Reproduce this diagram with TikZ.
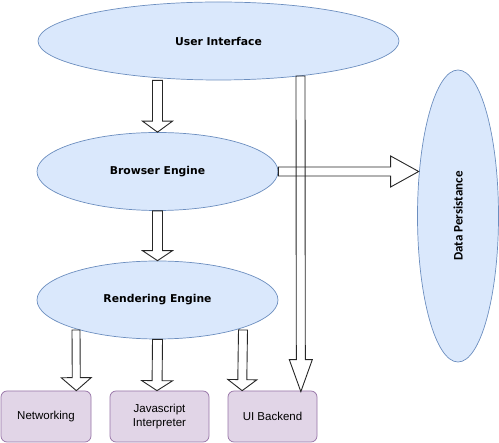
\documentclass[tikz,border=0pt]{standalone}
\usepackage{fontspec}
\usepackage{graphicx}
\setmainfont{Liberation Sans}
\newfontfamily\procfont{DejaVu Sans}
\newfontfamily\storefont{Carlito}
\usetikzlibrary{positioning,calc,shapes.geometric}

\definecolor{procfill}{HTML}{DAE8FC}
\definecolor{procline}{HTML}{6C8EBF}
\definecolor{compfill}{HTML}{E1D5E7}
\definecolor{compline}{HTML}{9673A6}

\tikzset{
  proc/.style={ellipse, draw=procline, fill=procfill, line width=0.7pt, inner sep=0pt,
    font=\procfont\bfseries\fontsize{10.8}{13}\selectfont},
  comp/.style={rectangle, rounded corners=6pt, draw=compline, fill=compfill, line width=0.7pt,
    minimum height=51pt, align=center, font=\fontsize{11.5}{13.5}\selectfont},
  flow/.style={draw=black!85, line width=0.9pt, line join=miter}
}

% fat open arrow: from, to, shaft half width, head half width, head length
\newcommand{\fatedge}[5]{%
  \coordinate (fa-base) at ($(#2)!#5!(#1)$);
  \draw[flow] ($(#1)!#3!90:(#2)$) -- ($(fa-base)!#3!-90:(#1)$) -- ($(fa-base)!#4!-90:(#1)$)
    -- (#2) -- ($(fa-base)!#4!90:(#1)$) -- ($(fa-base)!#3!90:(#1)$) -- ($(#1)!#3!-90:(#2)$) -- cycle;}

\begin{document}
\begin{tikzpicture}[x=1pt, y=-1pt]

    \path[use as bounding box] (0,0) rectangle (499,443);

    % Define nodes
    \node[proc, minimum width=361pt, minimum height=78pt] (ui) at (218.5,41) {User Interface};
    \node[proc, minimum width=241pt, minimum height=78pt] (be) at (157.5,171.5) {Browser Engine};
    \node[proc, minimum width=241pt, minimum height=78pt] (re) at (157.5,300) {Rendering Engine};
    \node[proc, minimum width=81pt, minimum height=292pt,
          font=\storefont\bfseries\fontsize{13}{15}\selectfont] (dp) at (458,216) {\rotatebox{90}{Data Persistance}};
    \node[comp, minimum width=90pt] (net) at (46,416.5) {Networking};
    \node[comp, minimum width=99pt] (js) at (159.5,416.5) {Javascript\\Interpreter};
    \node[comp, minimum width=89pt] (uib) at (272.5,416.5) {UI Backend};

    % Connect the nodes
    \fatedge{ui.south -| be.north}{be.north}{5pt}{15pt}{11pt}
    \fatedge{be.south}{re.north}{5pt}{15pt}{10pt}
    \fatedge{$(re.center)+(-81.5,30)$}{$(net.north east)+(-15,0)$}{4pt}{15pt}{13pt}
    \fatedge{re.south}{$(js.north)+(-2.5,0)$}{5pt}{15.5pt}{10pt}
    \fatedge{$(re.center)+(85.5,30)$}{$(uib.north west)+(14.5,0)$}{4.5pt}{14.5pt}{11pt}
    \fatedge{$(ui.center)+(82,35)$}{$(uib.north east)+(-16.5,1)$}{4.5pt}{11.5pt}{32pt}
    \fatedge{be.east}{$(dp.west |- be.east)+(1.5,0)$}{4.5pt}{15.5pt}{28pt}

\end{tikzpicture}
\end{document}
